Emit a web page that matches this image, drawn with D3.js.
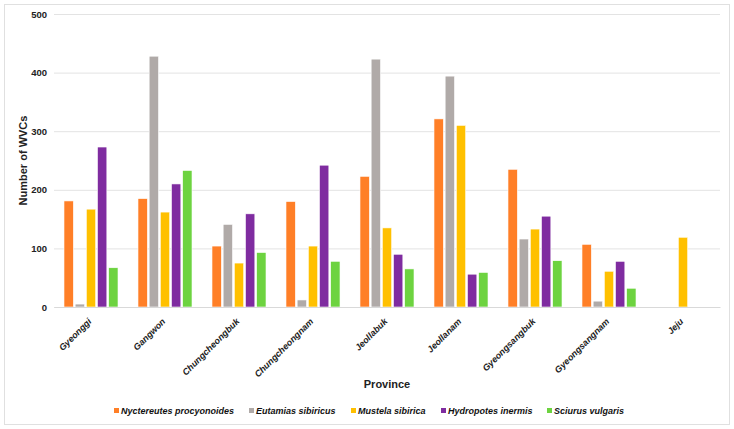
<!DOCTYPE html>
<html><head><meta charset="utf-8">
<script src="https://cdn.jsdelivr.net/npm/d3@7"></script>
<style>body{margin:0;background:#fff;font-family:"Liberation Sans",Arial,sans-serif;}</style>
</head><body><svg id="c" width="734" height="429"></svg>
<script>
const provinces = ["Gyeonggi","Gangwon","Chungcheongbuk","Chungcheongnam","Jeollabuk","Jeollanam","Gyeongsangbuk","Gyeongsangnam","Jeju"];
const species = ["Nyctereutes procyonoides","Eutamias sibiricus","Mustela sibirica","Hydropotes inermis","Sciurus vulgaris"];
const colors = ["#FF7F27","#B0AAA8","#FFC000","#7F2CA0","#6DD340"];
const nyctereutes = [181,185,104,180,223,321,235,107,0];
const eutamias    = [5,428,141,12,423,394,116,10,0];
const mustela     = [167,162,75,104,135,310,133,61,119];
const hydropotes  = [273,210,159,242,90,56,155,78,0];
const sciurus     = [67,233,93,78,65,59,79,32,0];
const yTicks = [0,100,200,300,400,500];
const seriesValues = [nyctereutes,eutamias,mustela,hydropotes,sciurus];
const FONT = "Liberation Sans, Arial, sans-serif";

const svg = d3.select("#c").attr("font-family",FONT);
svg.append("rect").attr("x",4.5).attr("y",4.5).attr("width",725).attr("height",420)
  .attr("fill","#fff").attr("stroke","#e0e0e0");

const m = {left:54, right:720, top:14, bottom:307};
const x0 = d3.scaleBand().domain(provinces).range([m.left,m.right]).paddingInner(0.27).paddingOuter(0.135);
const x1 = d3.scaleBand().domain(d3.range(species.length)).range([0,x0.bandwidth()]).paddingInner(0.16);
const y = d3.scaleLinear().domain([0,500]).range([m.bottom,m.top]);

// gridlines + y ticks
const yAxis = d3.axisLeft(y).tickValues(yTicks).tickSize(-(m.right-m.left)).tickPadding(7);
const gy = svg.append("g").attr("transform",`translate(${m.left},0)`).call(yAxis);
gy.select(".domain").remove();
gy.selectAll(".tick line").attr("stroke","#e3e3e3").attr("stroke-width",1);
gy.selectAll(".tick text").attr("font-size",9.5).attr("font-weight","bold").attr("fill","#222")
  .attr("font-family",FONT);

// bars
provinces.forEach((p,i)=>{
  seriesValues.forEach((vals,s)=>{
    const v = vals[i];
    if (v<=0) return;
    svg.append("rect")
      .attr("x",x0(p)+x1(s)).attr("width",x1.bandwidth())
      .attr("y",y(v)).attr("height",y(0)-y(v))
      .attr("fill",colors[s]).attr("stroke","#fff").attr("stroke-width",0.6);
  });
});

// x axis
const xAxis = d3.axisBottom(x0).tickSize(0);
const gx = svg.append("g").attr("transform",`translate(0,${m.bottom})`).call(xAxis);
gx.select(".domain").attr("stroke","#d9d9d9");
gx.selectAll(".tick text").attr("font-size",9).attr("font-weight","bold").attr("font-style","italic")
  .attr("fill","#222").attr("font-family",FONT)
  .attr("text-anchor","end").attr("x",0).attr("y",0).attr("dy",0)
  .attr("transform","translate(1,15) rotate(-45)");

// axis titles
svg.append("text").attr("x",(m.left+m.right)/2).attr("y",388).attr("text-anchor","middle")
  .attr("font-size",11).attr("font-weight","bold").attr("fill","#222").text("Province");
svg.append("text").attr("transform",`translate(27,${(m.top+m.bottom)/2}) rotate(-90)`)
  .attr("text-anchor","middle").attr("font-size",11).attr("font-weight","bold").attr("fill","#222")
  .text("Number of WVCs");

// legend
const legendX = [114,249,351,441,547];
const lg = svg.append("g");
species.forEach((s,i)=>{
  lg.append("rect").attr("x",legendX[i]).attr("y",408).attr("width",5).attr("height",5).attr("fill",colors[i]);
  lg.append("text").attr("x",legendX[i]+7).attr("y",413.5).attr("font-size",9).attr("font-weight","bold")
    .attr("font-style","italic").attr("fill","#111").text(s);
});
</script></body></html>
